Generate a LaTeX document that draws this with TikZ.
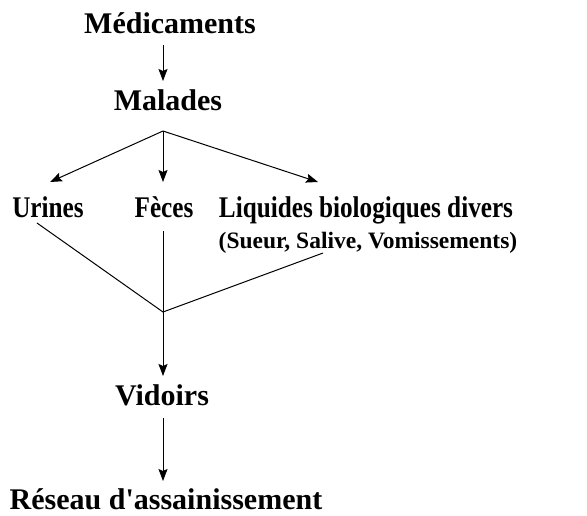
\documentclass[tikz,border=0pt]{standalone}
\usepackage{graphicx}
\usepackage{fontspec}
\setmainfont{Liberation Serif}
\usetikzlibrary{arrows.meta}
\newcommand{\narrow}[1]{\scalebox{0.84}[1]{#1}}
\begin{document}
\begin{tikzpicture}[x=1pt,y=-1pt,
  big/.style={font=\bfseries\fontsize{30}{36}\selectfont, anchor=base, inner sep=0pt},
  mid/.style={font=\bfseries\fontsize{30}{36}\selectfont, anchor=base, inner sep=0pt},
  small/.style={font=\bfseries\fontsize{23.5}{28}\selectfont, anchor=base, inner sep=0pt},
  conn/.style={line width=1pt},
  arr/.style={conn, -{Stealth[length=12pt,width=9pt,inset=2pt]}}]
\useasboundingbox (0,0) rectangle (587,515);
\node[big] (med) at (170,33) {Médicaments};
\node[big] (mal) at (168,110) {Malades};
\node[mid] (uri) at (48,217) {\narrow{Urines}};
\node[mid] (fec) at (164,217) {\narrow{Fèces}};
\node[mid] (liq) at (366,217) {\narrow{Liquides biologiques divers}};
\node[small] (sue) at (368,248) {(Sueur, Salive, Vomissements)};
\node[big] (vid) at (162,405) {Vidoirs};
\node[big] (res) at (166,509) {Réseau d\textquotesingle assainissement};
% named points
\coordinate (m1) at (163,45);
\coordinate (m2) at (163,81);
\coordinate (br) at (163,131);
\coordinate (tu) at (50,182);
\coordinate (tf) at (163,182);
\coordinate (tl) at (318,182);
\coordinate (su) at (37,223);
\coordinate (sf) at (163,231);
\coordinate (sl) at (323,253);
\coordinate (j) at (163,312);
\coordinate (tv) at (163,376);
\coordinate (v1) at (163,418);
\coordinate (tr) at (163,481);
% connectors
\draw[arr] (m1) -- (m2);
\draw[arr] (br) -- (tu);
\draw[arr] (br) -- (tf);
\draw[arr] (br) -- (tl);
\draw[conn] (su) -- (j);
\draw[conn] (sf) -- (j);
\draw[conn] (sl) -- (j);
\draw[arr] (j) -- (tv);
\draw[arr] (v1) -- (tr);
\end{tikzpicture}
\end{document}
